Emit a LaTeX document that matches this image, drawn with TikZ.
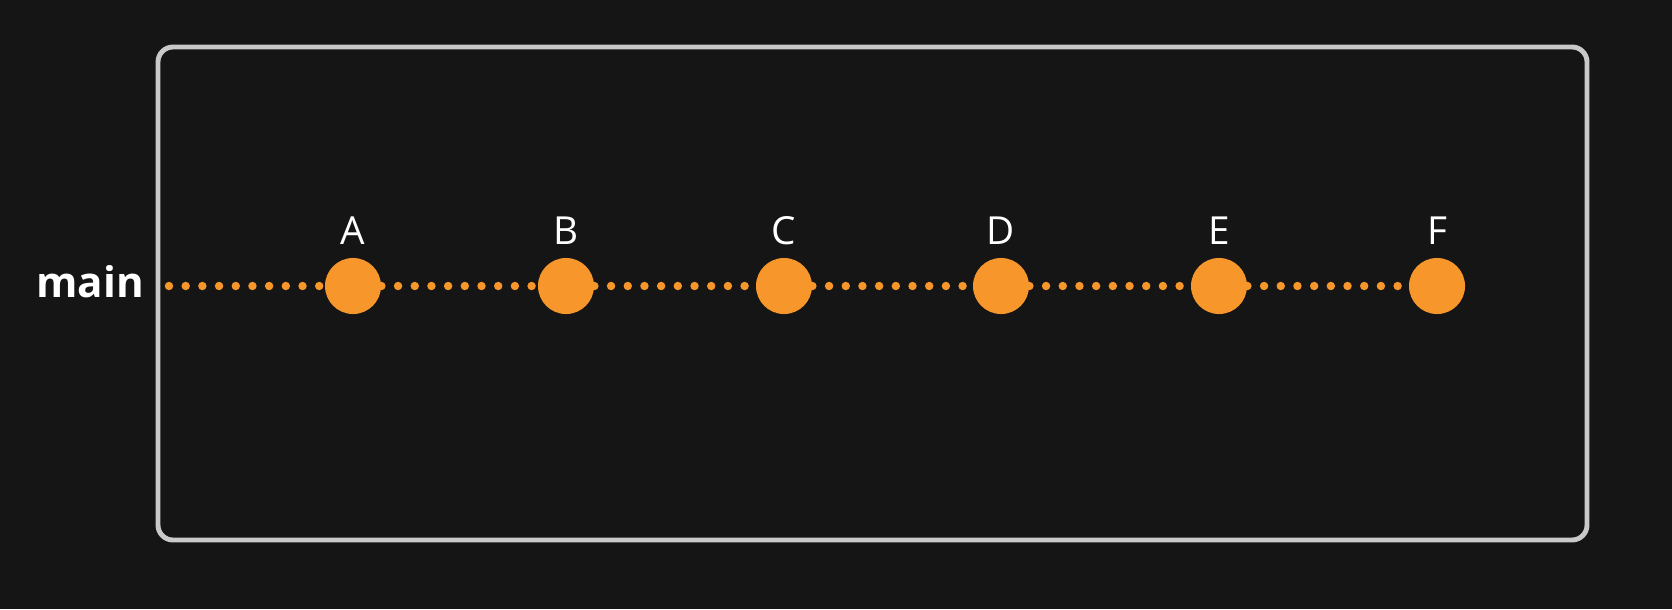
\documentclass[tikz,border=0pt]{standalone}
\usepackage{fontspec}
\setmainfont{Open Sans}
\usepackage{tikz}

\definecolor{bgdark}{HTML}{151515}
\definecolor{framegray}{HTML}{C9C9C9}
\definecolor{commitorange}{HTML}{F7962B}

\tikzset{
  commit/.style={circle,fill=commitorange,minimum size=31.9pt,inner sep=0pt},
  commitname/.style={text=white,anchor=base,font=\fontsize{22}{26}\selectfont},
  history/.style={draw=commitorange,line width=4.8pt,line cap=round,dash pattern=on 0pt off 9.5pt},
}

\begin{document}
\begin{tikzpicture}[x=0.02cm,y=-0.02cm]
      % 背景
      \fill[bgdark] (0,0) rectangle (1672,609);
      \useasboundingbox (0,0) rectangle (1672,609);

      % 枠
      \draw[framegray,line width=2.8pt,rounded corners=8.5pt] (158,47) rectangle (1587,540);

      % ブランチ名
      \node[text=white,anchor=base,font=\fontsize{24}{29}\selectfont\bfseries] (main) at (90,297) {main};

      % コミット
      \coordinate (start) at (169,286);
      \node[commit] (A) at (353,286) {};
      \node[commit] (B) at (566,286) {};
      \node[commit] (C) at (784,286) {};
      \node[commit] (D) at (1001,286) {};
      \node[commit] (E) at (1219,286) {};
      \node[commit] (F) at (1437,286) {};

      % 点線
      \draw[history] (start) -- (A.west);
      \draw[history] (A.east) -- (B.west);
      \draw[history] (B.east) -- (C.west);
      \draw[history] (C.east) -- (D.west);
      \draw[history] (D.east) -- (E.west);
      \draw[history] (E.east) -- (F.west);

      % ラベル
      \node[commitname] (lA) at (353,244) {A};
      \node[commitname] (lB) at (566,244) {B};
      \node[commitname] (lC) at (784,244) {C};
      \node[commitname] (lD) at (1001,244) {D};
      \node[commitname] (lE) at (1219,244) {E};
      \node[commitname] (lF) at (1437,244) {F};
\end{tikzpicture}
\end{document}
